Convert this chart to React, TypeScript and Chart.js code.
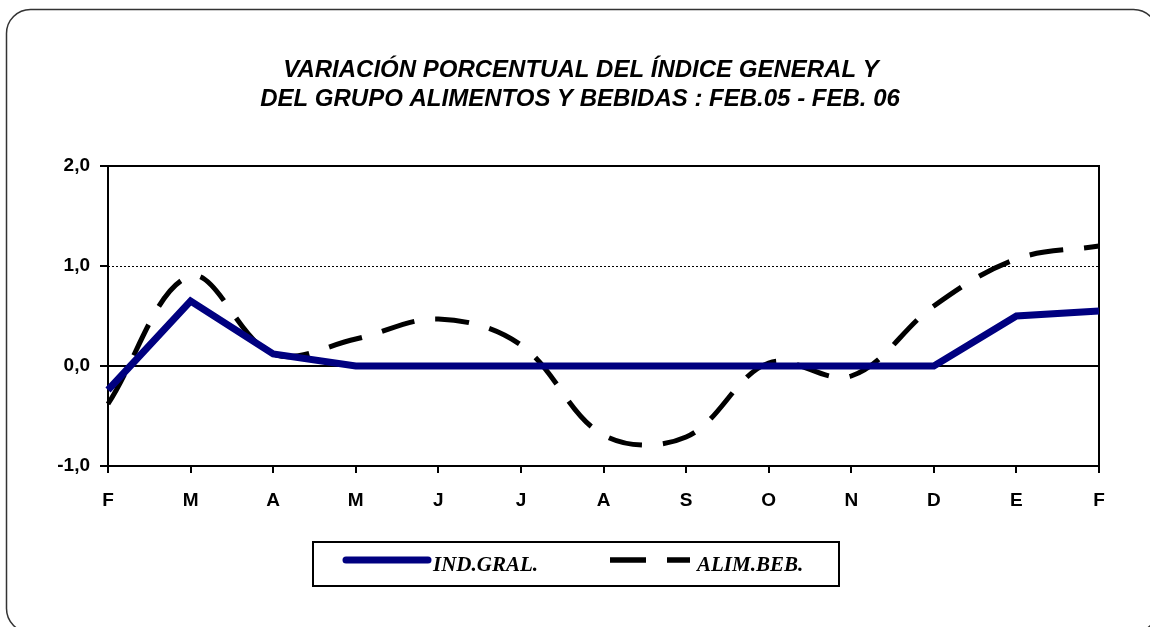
import React, { useEffect, useRef } from "react";
import { Chart, registerables } from "chart.js";

Chart.register(...registerables);

const months = ["F", "M", "A", "M", "J", "J", "A", "S", "O", "N", "D", "E", "F"];
const indGral = [-0.24, 0.65, 0.12, 0.0, 0.0, 0.0, 0.0, 0.0, 0.0, 0.0, 0.0, 0.5, 0.55];
const alimBeb = [-0.38, 0.9, 0.12, 0.27, 0.47, 0.21, -0.69, -0.71, 0.03, -0.1, 0.6, 1.07, 1.2];
const yTickValues = [-1, 0, 1, 2];
const yTickLabels = ["-1,0", "0,0", "1,0", "2,0"];
const titleLines = [
  "VARIACIÓN PORCENTUAL DEL ÍNDICE GENERAL Y",
  "DEL GRUPO ALIMENTOS Y BEBIDAS : FEB.05 - FEB. 06",
];
const seriesNames = ["IND.GRAL.", "ALIM.BEB."];

const NAVY = "#000080";
const SANS = "'Liberation Sans', Arial, sans-serif";
const SERIF = "'Liberation Serif', 'Times New Roman', serif";

const decorations = {
  id: "decorations",
  beforeDatasetsDraw(chart: any) {
    const { ctx, chartArea: a, scales } = chart;
    const y = scales.y;
    ctx.save();
    const y1 = Math.round(y.getPixelForValue(1)) + 0.5;
    ctx.strokeStyle = "#000";
    ctx.lineWidth = 1;
    ctx.setLineDash([2, 2]);
    ctx.beginPath();
    ctx.moveTo(a.left, y1);
    ctx.lineTo(a.right, y1);
    ctx.stroke();
    ctx.setLineDash([]);
    const y0 = Math.round(y.getPixelForValue(0));
    ctx.lineWidth = 2;
    ctx.beginPath();
    ctx.moveTo(a.left, y0);
    ctx.lineTo(a.right, y0);
    ctx.stroke();
    const yt = Math.round(y.getPixelForValue(2));
    ctx.beginPath();
    ctx.moveTo(a.left, yt);
    ctx.lineTo(a.right, yt);
    ctx.lineTo(a.right, a.bottom);
    ctx.stroke();
    ctx.restore();
  },
  afterDraw(chart: any) {
    const { ctx } = chart;
    ctx.save();
    ctx.strokeStyle = "#333";
    ctx.lineWidth = 1.5;
    ctx.beginPath();
    (ctx as any).roundRect(6.5, 9.5, 1151, 623, 24);
    ctx.stroke();

    ctx.fillStyle = "#000";
    ctx.textAlign = "center";
    ctx.textBaseline = "alphabetic";
    ctx.font = `italic bold 24px ${SANS}`;
    ctx.fillText(titleLines[0], 581, 77);
    ctx.fillText(titleLines[1], 580, 106);

    ctx.lineWidth = 2;
    ctx.strokeStyle = "#000";
    ctx.strokeRect(313, 542, 526, 44);

    ctx.strokeStyle = NAVY;
    ctx.lineWidth = 7;
    ctx.lineCap = "round";
    ctx.beginPath();
    ctx.moveTo(346, 560);
    ctx.lineTo(428, 560);
    ctx.stroke();

    ctx.strokeStyle = "#000";
    ctx.lineWidth = 5.5;
    ctx.lineCap = "butt";
    ctx.beginPath();
    ctx.moveTo(610, 560);
    ctx.lineTo(646, 560);
    ctx.moveTo(667, 560);
    ctx.lineTo(690, 560);
    ctx.stroke();

    ctx.textAlign = "left";
    ctx.font = `italic bold 21px ${SERIF}`;
    ctx.fillText(seriesNames[0], 433, 571);
    ctx.fillText(seriesNames[1], 697, 571);
    ctx.restore();
  },
};

export default function App() {
  const ref = useRef<HTMLCanvasElement>(null);

  useEffect(() => {
    if (!ref.current) return;
    const chart = new Chart(ref.current, {
      type: "line",
      data: {
        labels: months,
        datasets: [
          {
            label: seriesNames[0],
            data: indGral,
            borderColor: NAVY,
            backgroundColor: NAVY,
            borderWidth: 7,
            borderJoinStyle: "miter",
            borderCapStyle: "butt",
            tension: 0,
            pointRadius: 0,
            fill: false,
          },
          {
            label: seriesNames[1],
            data: alimBeb,
            borderColor: "#000",
            backgroundColor: "#000",
            borderWidth: 5,
            borderDash: [34, 21],
            borderCapStyle: "butt",
            tension: 0.36,
            pointRadius: 0,
            fill: false,
          },
        ],
      },
      options: {
        responsive: false,
        animation: false,
        devicePixelRatio: 1,
        layout: { padding: { top: 166, right: 51, left: 0, bottom: 0 } },
        plugins: {
          legend: { display: false },
          title: { display: false },
          tooltip: { enabled: false },
        },
        scales: {
          x: {
            offset: false,
            afterFit: (s: any) => {
              s.height = 161;
            },
            grid: {
              drawOnChartArea: false,
              drawTicks: true,
              tickLength: 7,
              color: "#000",
              lineWidth: 2,
            },
            border: { color: "#000", width: 2 },
            ticks: {
              color: "#000",
              font: { family: SANS, size: 19, weight: "bold" },
              padding: 16,
              maxRotation: 0,
              autoSkip: false,
            },
          },
          y: {
            min: -1,
            max: 2,
            afterFit: (s: any) => {
              s.width = 108;
            },
            afterBuildTicks: (s: any) => {
              s.ticks = yTickValues.map((v) => ({ value: v }));
            },
            grid: {
              drawOnChartArea: false,
              drawTicks: true,
              tickLength: 8,
              color: "#000",
              lineWidth: 2,
            },
            border: { color: "#000", width: 2 },
            ticks: {
              color: "#000",
              font: { family: SANS, size: 19, weight: "bold" },
              padding: 10,
              callback: (v: any) => yTickLabels[yTickValues.indexOf(Number(v))],
            },
          },
        },
      },
      plugins: [decorations],
    });
    return () => chart.destroy();
  }, []);

  return (
    <div
      style={{
        position: "absolute",
        left: 0,
        top: 0,
        width: 1150,
        height: 627,
        overflow: "hidden",
        background: "#fff",
      }}
    >
      <canvas ref={ref} width={1150} height={627} style={{ display: "block" }} />
    </div>
  );
}
